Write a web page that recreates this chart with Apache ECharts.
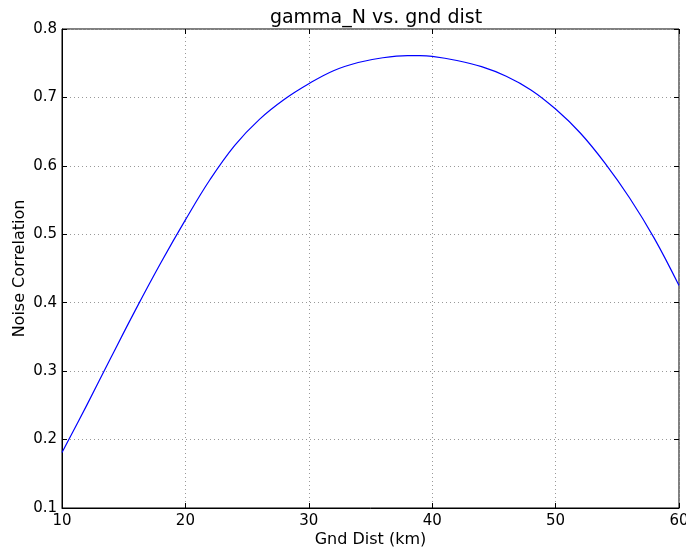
<!DOCTYPE html>
<html><head><meta charset="utf-8">
<script src="https://cdn.jsdelivr.net/npm/echarts@6/dist/echarts.min.js"></script>
<style>html,body{margin:0;padding:0;background:#fff}#c{width:686px;height:550px}</style>
</head><body><div id="c"></div>
<script>
const gndDist = [10,12,14,16,18,20,22,24,26,28,30,32,34,36,38,39,40,42,44,46,48,50,52,54,56,58,60];
const noiseCorr = [0.181,0.250,0.321,0.391,0.458,0.521,0.580,0.630,0.668,0.697,0.720,0.739,0.751,0.758,0.761,0.761,0.760,0.754,0.745,0.731,0.711,0.683,0.648,0.604,0.553,0.494,0.425];
const titleText = "gamma_N vs. gnd dist";
const xName = "Gnd Dist (km)";
const yName = "Noise Correlation";

const chart = echarts.init(document.getElementById('c'));
const F = 'DejaVu Sans';
const tickIn = {show:true, inside:true, length:5, lineStyle:{color:'#000', width:1}};
const grid = {type:[1,3], color:'#999', width:1};
chart.setOption({
  animation:false,
  title:{text:titleText, left:371, textAlign:'center', top:4, textStyle:{fontFamily:F, fontSize:19, fontWeight:'normal', color:'#000'}},
  grid:{left:62, right:7, top:29, bottom:42, show:true, borderColor:'#000', borderWidth:1, containLabel:false, outerBoundsMode:'none'},
  xAxis:[{type:'value', min:10, max:60, interval:10, position:'bottom',
    name:xName, nameLocation:'middle', nameGap:24, nameMoveOverlap:false, nameTextStyle:{fontFamily:F, fontSize:16, color:'#000'},
    axisLine:{show:true, lineStyle:{color:'#000'}}, axisTick:tickIn,
    axisLabel:{fontFamily:F, fontSize:15, color:'#000', margin:6},
    splitLine:{show:true, lineStyle:grid}},
   {type:'value', min:10, max:60, interval:10, position:'top',
    axisLine:{show:false}, axisTick:tickIn, axisLabel:{show:false}, splitLine:{show:false}}],
  yAxis:[{type:'value', min:0.1, max:0.8, interval:0.1, position:'left',
    name:yName, nameLocation:'middle', nameGap:34, nameMoveOverlap:false, nameTextStyle:{fontFamily:F, fontSize:16, color:'#000'},
    axisLine:{show:true, lineStyle:{color:'#000'}}, axisTick:tickIn,
    axisLabel:{fontFamily:F, fontSize:15, color:'#000', margin:5, formatter:v=>v.toFixed(1)},
    splitLine:{show:true, lineStyle:grid}},
   {type:'value', min:0.1, max:0.8, interval:0.1, position:'right',
    axisLine:{show:false}, axisTick:tickIn, axisLabel:{show:false}, splitLine:{show:false}}],
  series:[{type:'line', data:gndDist.map((x,i)=>[x,noiseCorr[i]]), smooth:0.4, showSymbol:false,
    lineStyle:{color:'#0000ff', width:1.2}}]
});
</script></body></html>
